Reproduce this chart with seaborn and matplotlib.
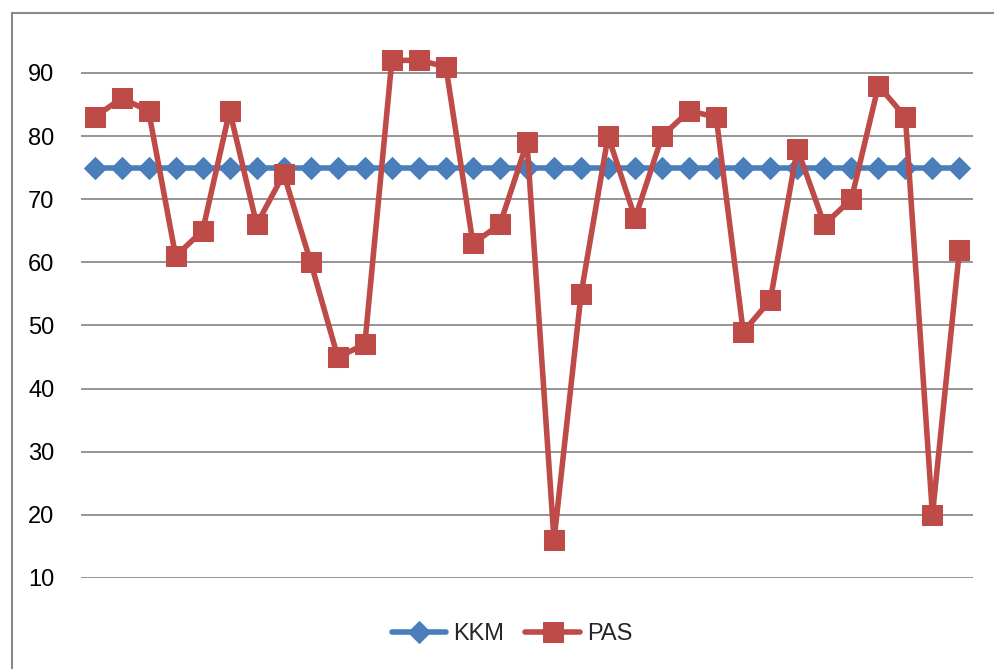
import matplotlib
matplotlib.use("Agg")
import matplotlib.pyplot as plt
from matplotlib.patches import Rectangle
import seaborn as sns
import pandas as pd

kkm = [75] * 33
pas = [83, 86, 84, 61, 65, 84, 66, 74, 60, 45, 47, 92, 92, 91, 63, 66, 79,
       16, 55, 80, 67, 80, 84, 83, 49, 54, 78, 66, 70, 88, 83, 20, 62]
y_ticks = [10, 20, 30, 40, 50, 60, 70, 80, 90]

idx = list(range(len(pas)))
df = pd.DataFrame({
    "idx": idx + idx,
    "value": kkm + pas,
    "series": ["KKM"] * len(kkm) + ["PAS"] * len(pas),
})

sns.set_theme(style="white")
plt.rcParams["font.family"] = ["Liberation Sans", "DejaVu Sans"]

fig = plt.figure(figsize=(9.94, 6.69), dpi=100)
ax = fig.add_axes([81 / 994, 1 - 578 / 669, (973 - 81) / 994, (578 - 13) / 669])

palette = {"KKM": "#4A7EBB", "PAS": "#BE4B48"}
sizes = {"KKM": 11, "PAS": 14}
markers = {"KKM": "D", "PAS": "s"}
for name in ["KKM", "PAS"]:
    sub = df[df["series"] == name]
    sns.lineplot(data=sub, x="idx", y="value", ax=ax, color=palette[name],
                 marker=markers[name], markersize=sizes[name],
                 markeredgecolor=palette[name], linewidth=4.0, label=name,
                 legend=False)

ax.set_xlim(-0.5, len(pas) - 0.5)
ax.set_ylim(10, 99.5)
ax.set_yticks(y_ticks)
ax.set_yticklabels([str(t) for t in y_ticks])
ax.set_xticks([])
ax.set_xlabel("")
ax.set_ylabel("")
ax.grid(axis="y", color="#8C8C8C", linewidth=1.3)
ax.set_axisbelow(True)
for s in ax.spines.values():
    s.set_visible(False)
ax.tick_params(axis="y", length=0, pad=19, labelsize=17, labelcolor="black")

handles, labels = ax.get_legend_handles_labels()
fig.legend(handles, labels, loc="center", bbox_to_anchor=(512 / 994, 1 - 634 / 669),
           ncol=2, frameon=False, fontsize=17, handlelength=2.3,
           handletextpad=0.3, columnspacing=0.9)

fig.add_artist(Rectangle((12 / 994, -0.2), 1.5, 1.2 - 13 / 669,
                         transform=fig.transFigure, fill=False,
                         edgecolor="#8A8A8A", linewidth=1.5, clip_on=False))

fig.savefig("out.png", dpi=100)
